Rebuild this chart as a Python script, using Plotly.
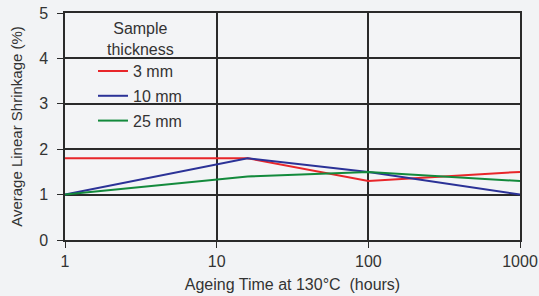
import plotly.graph_objects as go

hours = [1, 16, 100, 1000]
series_names = ["3 mm", "10 mm", "25 mm"]
s_3mm = [1.8, 1.8, 1.3, 1.5]
s_10mm = [1.0, 1.8, 1.5, 1.0]
s_25mm = [1.0, 1.4, 1.5, 1.3]
colors = ["#e8262a", "#2b3297", "#138a3c"]
x_ticks = [1, 10, 100, 1000]
y_ticks = [0, 1, 2, 3, 4, 5]
legend_title = "Sample<br>thickness"

fig = go.Figure()
for i, (name, vals) in enumerate(zip(series_names, [s_3mm, s_10mm, s_25mm])):
    fig.add_trace(go.Scatter(x=hours, y=vals, mode="lines", name=name,
                             legendgroup=name,
                             line=dict(color=colors[i], width=2)))

font_family = "Liberation Sans, Arial, sans-serif"
fig.add_annotation(text=legend_title, xref="paper", yref="paper",
                   x=0.166, y=0.887, xanchor="center", yanchor="middle",
                   align="center", showarrow=False,
                   font=dict(size=16, color="#333333"))

fig.update_layout(
    width=539, height=296,
    margin=dict(l=65, r=19, t=13, b=56),
    paper_bgcolor="#f2f3f5",
    plot_bgcolor="#f3f4f6",
    font=dict(family=font_family, size=16, color="#333333"),
    legend=dict(
        x=0.0615, y=0.819, xanchor="left", yanchor="top",
        bgcolor="rgba(0,0,0,0)",
        font=dict(size=16, color="#333333"),
        itemwidth=30,
        traceorder="grouped",
        tracegroupgap=1,
    ),
    xaxis=dict(
        type="log", range=[0, 3],
        tickvals=x_ticks, ticktext=[str(v) for v in x_ticks],
        showgrid=True, gridcolor="#2a2a2a", gridwidth=1.5,
        showline=True, linecolor="#2a2a2a", linewidth=1.5, mirror=True,
        ticks="outside", ticklen=6, tickcolor="#2a2a2a",
        title=dict(text="Ageing Time at 130°C  (hours)", font=dict(size=16), standoff=10),
        zeroline=False, automargin=False,
    ),
    yaxis=dict(
        range=[0, 5], tickvals=y_ticks,
        showgrid=True, gridcolor="#2a2a2a", gridwidth=1.5,
        showline=True, linecolor="#2a2a2a", linewidth=1.5, mirror=True,
        ticks="outside", ticklen=6, tickcolor="#2a2a2a",
        ticklabelstandoff=6,
        title=dict(text="Average Linear Shrinkage (%)", font=dict(size=15), standoff=13),
        zeroline=False, automargin=False,
    ),
)

fig.write_html("out.html", config={"displayModeBar": False},
               post_script="document.body.style.margin='0';")
